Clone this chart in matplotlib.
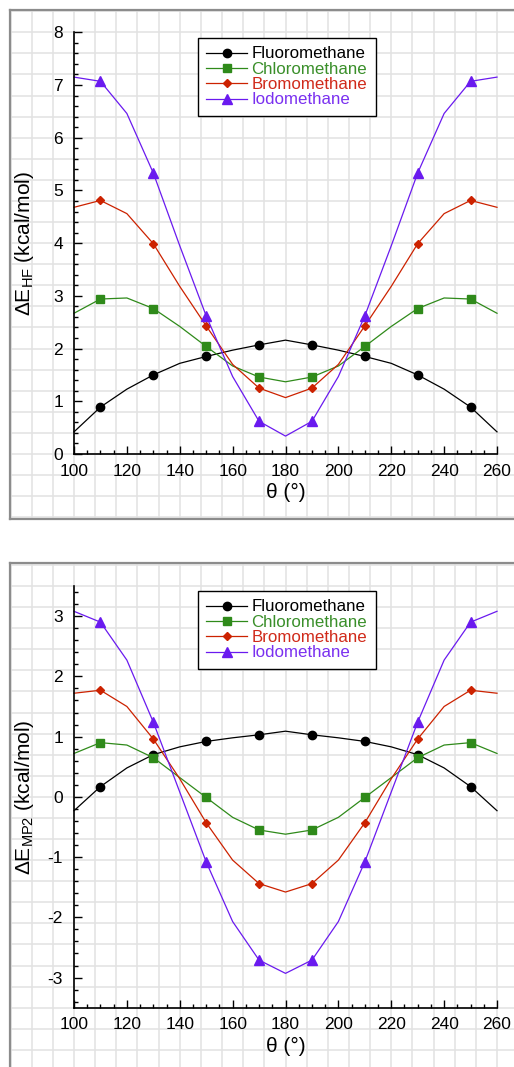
import numpy as np
import matplotlib
matplotlib.use("Agg")
import matplotlib.pyplot as plt
from matplotlib.ticker import MultipleLocator

plt.rcParams["font.family"] = ["Liberation Sans", "DejaVu Sans"]
plt.rcParams["mathtext.fontset"] = "custom"
plt.rcParams["mathtext.rm"] = "Liberation Sans"
plt.rcParams["mathtext.it"] = "Liberation Sans:italic"
plt.rcParams["mathtext.default"] = "regular"
plt.rcParams["axes.unicode_minus"] = False

# dihedral angle scan (degrees)
theta = [100, 110, 120, 130, 140, 150, 160, 170, 180,
         190, 200, 210, 220, 230, 240, 250, 260]

names = ["Fluoromethane", "Chloromethane", "Bromomethane", "Iodomethane"]

# relative energies, HF level (kcal/mol)
hf_fluoro = [0.42, 0.89, 1.23, 1.50, 1.72, 1.85, 1.97, 2.07, 2.16,
             2.07, 1.97, 1.85, 1.72, 1.50, 1.23, 0.89, 0.42]
hf_chloro = [2.67, 2.94, 2.96, 2.76, 2.42, 2.04, 1.67, 1.46, 1.37,
             1.46, 1.67, 2.04, 2.42, 2.76, 2.96, 2.94, 2.67]
hf_bromo = [4.68, 4.81, 4.56, 3.99, 3.18, 2.43, 1.70, 1.25, 1.07,
            1.25, 1.70, 2.43, 3.18, 3.99, 4.56, 4.81, 4.68]
hf_iodo = [7.15, 7.07, 6.46, 5.33, 3.95, 2.62, 1.47, 0.62, 0.34,
           0.62, 1.47, 2.62, 3.95, 5.33, 6.46, 7.07, 7.15]

# relative energies, MP2 level (kcal/mol)
mp2_fluoro = [-0.23, 0.17, 0.48, 0.70, 0.83, 0.92, 0.98, 1.03, 1.09,
              1.03, 0.98, 0.92, 0.83, 0.70, 0.48, 0.17, -0.23]
mp2_chloro = [0.72, 0.90, 0.86, 0.65, 0.32, -0.01, -0.34, -0.55, -0.62,
              -0.55, -0.34, -0.01, 0.32, 0.65, 0.86, 0.90, 0.72]
mp2_bromo = [1.72, 1.77, 1.50, 0.96, 0.30, -0.43, -1.05, -1.44, -1.58,
             -1.44, -1.05, -0.43, 0.30, 0.96, 1.50, 1.77, 1.72]
mp2_iodo = [3.08, 2.90, 2.27, 1.24, 0.08, -1.08, -2.07, -2.71, -2.93,
            -2.71, -2.07, -1.08, 0.08, 1.24, 2.27, 2.90, 3.08]

colors = ["#000000", "#2f8a1a", "#cc2200", "#6a1aef"]
text_colors = ["#000000", "#3a8f2a", "#d02a1a", "#7a30f0"]
markers = ["o", "s", "D", "^"]
msizes = [6.0, 6.0, 4.2, 6.5]

W, H = 514, 1067
fig = plt.figure(figsize=(W / 100, H / 100), dpi=100)


def px_rect(left, top, right, bottom):
    return [left / W, 1 - bottom / H, (right - left) / W, (bottom - top) / H]


AX_L, AX_R = 74, 497
FRAME_L, FRAME_R = 10, 530
XLIM = (100, 260)


def panel(frame_top, frame_bot, ax_top, ax_bot, ylim, series, ylabel, leg_top):
    # graph-paper backdrop inside a grey frame, sharing the data scale
    bg = fig.add_axes(px_rect(FRAME_L, frame_top, FRAME_R, frame_bot), zorder=0)
    xpx = (AX_R - AX_L) / (XLIM[1] - XLIM[0])
    ypx = (ax_bot - ax_top) / (ylim[1] - ylim[0])
    gx = (XLIM[1] - XLIM[0]) / 20
    gy = (ylim[1] - ylim[0]) / 20
    bg.set_xticks(XLIM[0] + gx * np.arange(-10, 30))
    bg.set_yticks(ylim[0] + gy * np.arange(-10, 40))
    bg.set_xlim(XLIM[0] - (AX_L - FRAME_L) / xpx, XLIM[1] + (FRAME_R - AX_R) / xpx)
    bg.set_ylim(ylim[0] - (frame_bot - ax_bot) / ypx, ylim[1] + (ax_top - frame_top) / ypx)
    bg.grid(True, color="#e2e2e2", lw=1.1)
    bg.tick_params(length=0, labelbottom=False, labelleft=False)
    for side in ["left", "top", "bottom"]:
        bg.spines[side].set_color("#8c8c8c")
        bg.spines[side].set_linewidth(1.6)
    bg.spines["right"].set_visible(False)

    ax = fig.add_axes(px_rect(AX_L, ax_top, AX_R, ax_bot), zorder=1)
    ax.set_facecolor("none")
    for vals, name, c, m, ms in zip(series, names, colors, markers, msizes):
        ax.plot(theta, vals, color=c, lw=0.9, marker=m, ms=ms,
                markevery=slice(1, None, 2), label=name, clip_on=False)
    ax.set_xlim(*XLIM)
    ax.set_ylim(*ylim)
    ax.xaxis.set_major_locator(MultipleLocator(20))
    ax.xaxis.set_minor_locator(MultipleLocator(5))
    ax.yaxis.set_major_locator(MultipleLocator(1))
    ax.yaxis.set_minor_locator(MultipleLocator(0.2))
    ax.spines["top"].set_visible(False)
    ax.spines["right"].set_visible(False)
    for side in ["left", "bottom"]:
        ax.spines[side].set_linewidth(1.2)
    ax.tick_params(which="major", direction="in", length=5.5, width=1, labelsize=12.5)
    ax.tick_params(which="minor", direction="in", length=3, width=1)
    ax.tick_params(axis="x", which="major", pad=7)
    ax.tick_params(axis="y", which="major", pad=8)
    ax.set_xlabel("θ (°)", fontsize=15, labelpad=3)
    ax.set_ylabel(ylabel, fontsize=15, va="center")
    ax.yaxis.set_label_coords(-0.116, 0.5)

    leg = ax.legend(loc="upper left", bbox_to_anchor=(198 / W, 1 - leg_top / H),
                    bbox_transform=fig.transFigure, borderaxespad=0,
                    fancybox=False, edgecolor="black", framealpha=1,
                    fontsize=12.2, labelspacing=0.02, handlelength=2.4,
                    handletextpad=0.25, borderpad=0.5)
    leg.get_frame().set_linewidth(1.0)
    for t, c in zip(leg.get_texts(), text_colors):
        t.set_color(c)
    return ax


panel(10, 519, 32.3, 454, (0, 8),
      [hf_fluoro, hf_chloro, hf_bromo, hf_iodo],
      r"$\Delta$E$_{HF}$ (kcal/mol)", 38)
panel(563, 1090, 586, 1007.7, (-3.5, 3.5),
      [mp2_fluoro, mp2_chloro, mp2_bromo, mp2_iodo],
      r"$\Delta$E$_{MP2}$ (kcal/mol)", 591)

fig.savefig("out.png", dpi=100)
